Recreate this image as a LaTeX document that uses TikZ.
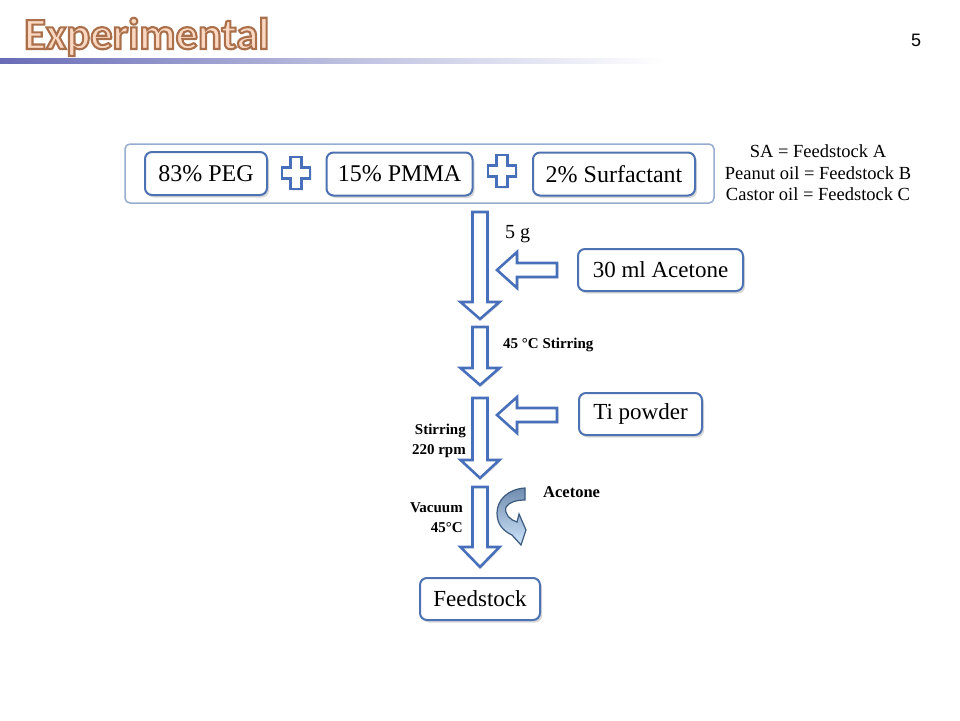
\documentclass[tikz,border=0pt]{standalone}
\usepackage{fontspec}
\setmainfont{Liberation Serif}
\newfontfamily\titlefont{Carlito}
\newfontfamily\numfont{Liberation Sans}
\usetikzlibrary{shadows,calc}
\definecolor{boxblue}{RGB}{77,114,178}
\definecolor{arrowblue}{RGB}{72,112,186}
\definecolor{framebl}{RGB}{150,172,208}
\definecolor{barblue}{RGB}{104,108,182}
\definecolor{peach}{RGB}{251,216,194}
\definecolor{curvedark}{RGB}{112,140,175}
\definecolor{curvelight}{RGB}{205,228,250}
\definecolor{curveline}{RGB}{58,90,128}
\newcommand\outlinedtext[1]{\special{pdf:literal direct 2 Tr 2.1 w 0.667 0.44 0.30 RG}#1\special{pdf:literal direct 0 Tr}}
\tikzset{
  stepbox/.style={draw=boxblue, line width=2pt, rounded corners=7pt, fill=white,
    drop shadow={opacity=0.3, shadow xshift=2pt, shadow yshift=-2.5pt},
    inner sep=0pt, text=black},
  topbox/.style={stepbox, font=\fontsize{24}{28}\selectfont, minimum height=43pt},
  sidebox/.style={stepbox, font=\fontsize{23}{27}\selectfont, minimum height=42pt},
  blockarrow/.style={draw=arrowblue, line width=2.6pt, fill=white, line join=miter,
    drop shadow={opacity=0.2, shadow xshift=1.5pt, shadow yshift=-1.5pt}},
  smalllabel/.style={font=\fontsize{15}{20}\selectfont\bfseries, inner sep=0pt},
  titletext/.style={inner sep=0pt, anchor=base west, font=\titlefont\bfseries\fontsize{44.5}{48}\selectfont},
  plusmark/.pic={\draw[blockarrow, line width=2.4pt] (-5.5,-16) -- (5.5,-16) -- (5.5,-5.5) -- (14,-5.5) -- (14,5.5) -- (5.5,5.5) -- (5.5,16) -- (-5.5,16) -- (-5.5,5.5) -- (-14,5.5) -- (-14,-5.5) -- (-5.5,-5.5) -- cycle;}
}
\begin{document}
\begin{tikzpicture}[x=1pt,y=-1pt]
\useasboundingbox (0,0) rectangle (960,720);
\fill[white] (0,0) rectangle (960,720);
% header bar
\shade[left color=barblue, right color=white, middle color=barblue!45] (0,58) rectangle (665,63.5);
% title with outline
\node (title) [titletext, text=peach] at (24,49) {\outlinedtext{Experimental}};
\node (pagenum) [font=\numfont\fontsize{18}{20}\selectfont, inner sep=0pt] at (916,40) {5};
% top frame
\node (frame) [draw=framebl, line width=1.5pt, rounded corners=5pt, minimum width=589pt, minimum height=59pt, inner sep=0pt] at (419.5,173.5) {};
\node (peg) [topbox, minimum width=122pt] at (206,173.5) {83\% PEG};
\node (pmma) [topbox, minimum width=146pt] at (399.5,174) {15\% PMMA};
\node (surf) [topbox, minimum width=162pt] at (614,174) {2\% Surfactant};
\pic at (296,173) {plusmark};
\pic at (502,171) {plusmark};
% legend
\node (legend) [align=center, font=\fontsize{18.5}{21.5}\selectfont, inner sep=0pt] at (818,173) {SA = Feedstock A\\Peanut oil = Feedstock B\\Castor oil = Feedstock C};
% down arrows
\foreach \t/\h/\p in {212/302/319, 327/368/385, 398/460/478, 487/547/567}{
  \draw[blockarrow] (472.5,\t) -- (487.5,\t) -- (487.5,\h) -- (499.5,\h) -- (480,\p) -- (460.5,\h) -- (472.5,\h) -- cycle;
}
% left arrows
\foreach \c in {270,415}{
  \draw[blockarrow] (557,\c-7) -- (517,\c-7) -- (517,\c-18) -- (497,\c) -- (517,\c+18) -- (517,\c+7) -- (557,\c+7) -- cycle;
}
% side boxes
\node (acet) [sidebox, minimum width=165pt] at (660.5,270) {30 ml Acetone};
\node (ti) [sidebox, minimum width=123pt] at (640.5,414) {Ti powder};
\node (feed) [sidebox, minimum width=120pt] at (480,599) {Feedstock};
% labels
\node (fiveg) [font=\fontsize{20}{24}\selectfont, inner sep=0pt, anchor=base west] at (505,238) {5 g};
\node (stir1) [smalllabel, anchor=west] at (503,345) {45 °C Stirring};
\node (stir2) [smalllabel, align=right, anchor=east] at (466,441) {Stirring\\220 rpm};
\node (vac) [smalllabel, align=right, anchor=east] at (463,518) {Vacuum\\45°C};
\node (acetout) [smalllabel, font=\fontsize{16.5}{20}\selectfont\bfseries, anchor=west] at (543,492) {Acetone};
% curved arrow
\draw[curveline, line width=1.2pt, line join=miter, top color=curvedark, bottom color=curvelight]
  (525,488) .. controls (508,489) and (497,500) .. (497,513)
  .. controls (497,524) and (503,531) .. (512,535)
  -- (521,545) -- (526,530) -- (519,514) -- (517,522)
  .. controls (510,520) and (504,514) .. (506,507)
  .. controls (509,502) and (517,500) .. (525,500) -- cycle;
\end{tikzpicture}
\end{document}
